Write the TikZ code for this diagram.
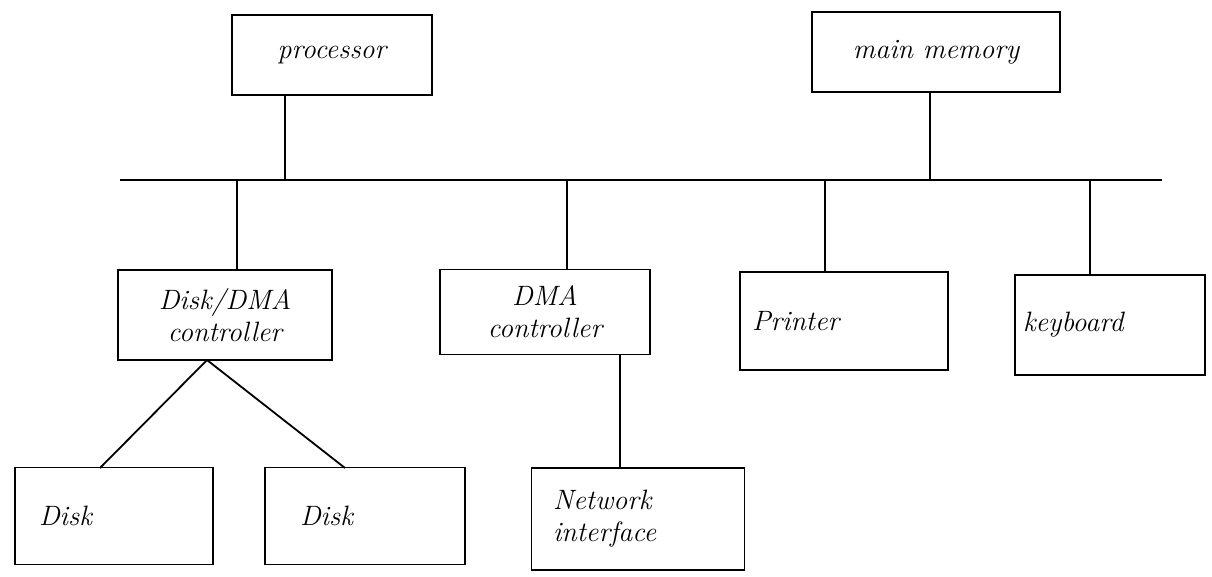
\documentclass[tikz,border=0pt]{standalone}
\usepackage{fontspec}
\begin{document}
\begin{tikzpicture}[x=1pt,y=-1pt,
  box/.style={draw,line width=1.8pt,minimum width=#1,inner sep=0pt},
  lbl/.style={font=\fontsize{28}{32}\selectfont\itshape},
  wire/.style={line width=1.8pt}]
\useasboundingbox[fill=white] (0,0) rectangle (1212,576);
% boxes
\node[box=200pt,minimum height=80pt,lbl] (proc) at (332,55) {\raisebox{-4pt}{processor}};
\node[box=248pt,minimum height=80pt,lbl] (mem) at (936,52) {main memory};
\node[box=214pt,minimum height=90pt,lbl,align=center] (dmac1) at (225,315) {Disk/DMA\\controller};
\node[box=210pt,minimum height=85pt,lbl,align=center] (dmac2) at (545,312) {DMA\\controller};
\node[box=208pt,minimum height=98pt,lbl,text width=184pt,align=left] (prn) at (844,321) {Printer};
\node[box=190pt,minimum height=100pt,lbl,text width=174pt,align=left] (kbd) at (1110,325) {keyboard};
\node[box=198pt,minimum height=97pt,lbl,text width=150pt,align=left] (disk1) at (114,516) {Disk};
\node[box=200pt,minimum height=97pt,lbl,text width=130pt,align=left] (disk2) at (365,516) {Disk};
\node[box=213pt,minimum height=102pt,lbl,text width=170pt,align=left] (net) at (638,519) {Network\\interface};
% bus
\coordinate (busL) at (120,180);
\coordinate (busR) at (1162,180);
\draw[line width=2.8pt] (busL) -- (busR);
\coordinate (bp) at (285,180);
\coordinate (bm) at (930,180);
\coordinate (b1) at (237,180);
\coordinate (b2) at (567,180);
\coordinate (b3) at (825,180);
\coordinate (b4) at (1090,180);
\draw[wire] (bp |- proc.south) -- (bp);
\draw[wire] (bm |- mem.south) -- (bm);
\draw[wire] (b1) -- (b1 |- dmac1.north);
\draw[wire] (b2) -- (b2 |- dmac2.north);
\draw[wire] (b3) -- (b3 |- prn.north);
\draw[wire] (b4) -- (b4 |- kbd.north);
% disk controller to disks
\coordinate (dc) at (207,360);
\draw[wire] (dc) -- (100,468);
\draw[wire] (dc) -- (345,468);
% dma controller to network
\coordinate (nc) at (620,0);
\draw[wire] (nc |- dmac2.south) -- (nc |- net.north);
\end{tikzpicture}
\end{document}
